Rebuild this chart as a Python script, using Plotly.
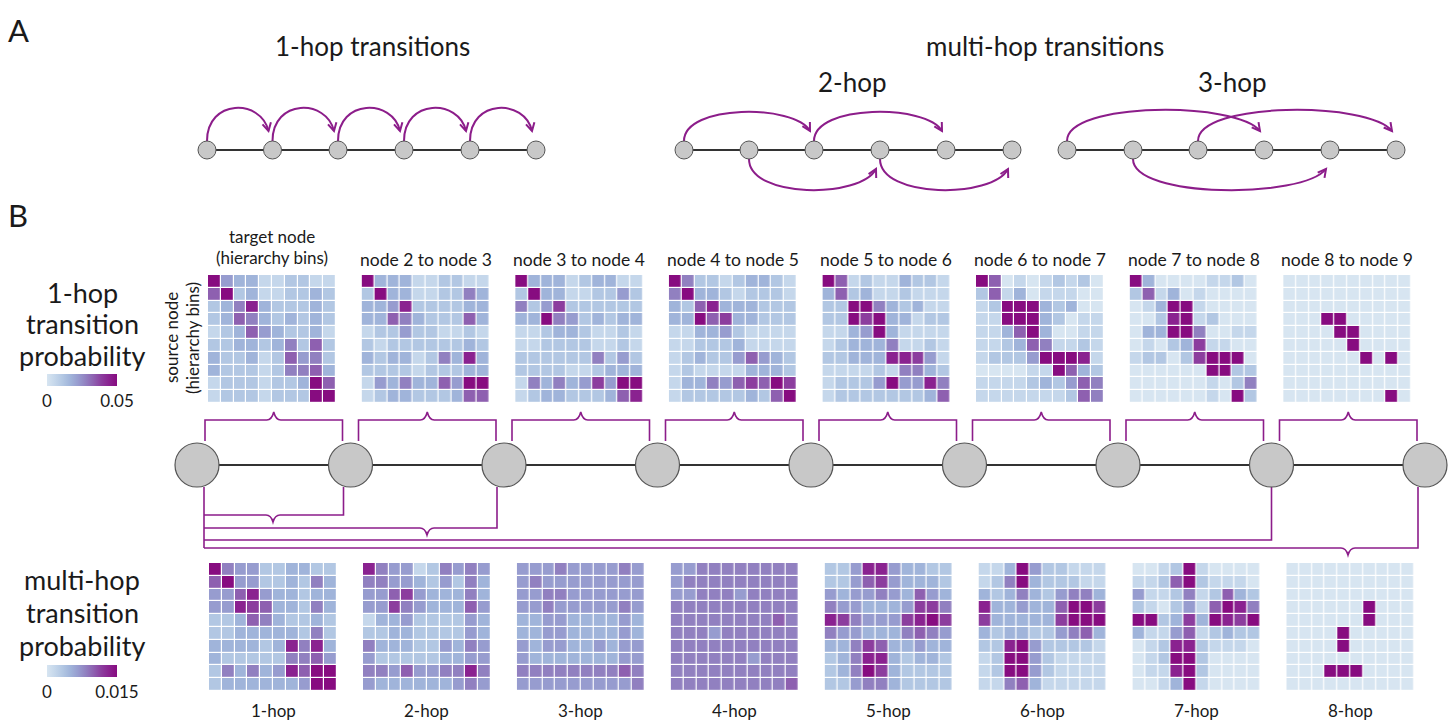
import numpy as np
import plotly.graph_objects as go

W, H = 1455, 721
FONT = "Lato"
TXT = "#1a1a1a"
PURPLE = "#8c1d8a"
NODE_FILL = "#c8c8c8"
NODE_LINE = "#555555"

TOP_MAX = 0.05
BOTTOM_MAX = 0.015
N_LEVELS = 9  # matrices below are colour levels 0..9

top_titles = ["node 2 to node 3", "node 3 to node 4", "node 4 to node 5",
              "node 5 to node 6", "node 6 to node 7", "node 7 to node 8",
              "node 8 to node 9"]
bottom_titles = ["1-hop", "2-hop", "3-hop", "4-hop", "5-hop", "6-hop", "7-hop", "8-hop"]

T1 = [[9,4,3,3,1,1,2,2,1,1],[6,9,2,3,1,1,2,2,3,2],[2,3,5,8,3,2,2,2,3,2],
      [2,3,6,5,3,2,3,2,3,2],[1,2,3,6,4,3,2,2,3,1],[2,2,3,3,2,3,5,2,6,2],
      [3,2,2,3,1,2,6,4,5,2],[3,2,2,2,1,2,5,5,6,3],[1,2,2,2,1,2,2,3,9,6],
      [1,2,2,2,1,2,2,2,9,9]]
T2 = [[9,3,3,3,1,1,2,2,1,1],[2,9,3,3,1,1,2,2,5,3],[3,3,4,8,2,2,2,2,3,3],
      [3,3,6,5,3,2,2,2,6,3],[1,2,2,4,2,2,1,1,2,1],[2,1,2,2,2,2,2,2,3,2],
      [3,2,3,3,1,2,5,3,8,3],[2,2,2,2,1,2,2,2,3,3],[1,4,3,5,3,3,6,4,9,9],
      [1,2,3,3,2,2,2,3,6,6]]
T3 = [[9,3,3,3,1,2,3,3,1,1],[2,9,3,3,1,1,2,2,4,2],[5,2,4,7,2,2,2,2,2,2],
      [3,3,9,5,4,2,3,2,3,3],[1,1,2,3,3,2,1,1,2,1],[1,1,2,2,2,2,1,1,2,1],
      [2,2,2,2,2,2,5,2,4,2],[2,2,2,2,1,1,2,3,3,3],[1,5,3,5,3,4,7,4,9,9],
      [1,2,3,3,2,2,2,3,6,8]]
T4 = [[9,5,2,2,1,2,3,3,2,1],[5,9,3,3,2,1,2,2,2,1],[3,2,6,8,3,3,3,2,2,2],
      [3,3,9,6,7,3,3,2,2,2],[1,1,3,3,4,2,1,1,1,1],[1,1,2,2,2,3,1,1,1,1],
      [1,2,3,2,2,4,6,4,3,2],[1,2,1,1,1,1,3,3,3,2],[1,3,3,5,4,6,7,6,9,7],
      [1,2,2,2,2,2,3,2,6,9]]
T5 = [[9,6,1,2,1,1,3,2,2,1],[3,6,2,3,1,1,2,1,1,1],[2,2,9,9,5,3,2,3,1,1],
      [2,2,9,7,9,3,3,1,2,2],[1,1,3,4,9,3,1,1,1,1],[1,2,3,3,3,5,1,1,2,1],
      [2,2,3,3,3,8,8,7,4,1],[1,1,1,1,2,1,5,5,3,2],[1,2,2,2,4,9,4,4,8,5],
      [1,2,2,2,2,2,2,2,3,6]]
T6 = [[9,6,0,1,0,1,2,1,2,0],[2,6,1,3,0,1,1,1,0,0],[1,2,9,9,9,3,2,3,0,0],
      [1,1,9,9,9,3,2,0,1,1],[1,1,3,6,9,3,0,0,1,1],[1,1,2,3,6,5,1,1,2,1],
      [1,2,2,2,4,9,9,9,8,1],[0,0,0,0,1,1,9,6,3,2],[1,1,1,1,2,3,2,4,6,5],
      [1,1,1,1,1,1,1,2,6,5]]
T7 = [[9,3,0,0,0,0,1,1,2,0],[2,6,1,3,0,1,0,0,0,0],[0,1,3,9,9,1,0,0,0,0],
      [0,0,2,8,9,1,2,0,0,0],[0,3,3,9,9,5,0,0,1,1],[0,1,0,2,3,7,1,1,0,0],
      [1,2,2,0,2,7,9,9,9,0],[0,0,0,0,0,0,9,9,2,2],[0,0,0,0,0,0,1,0,2,5],
      [0,0,0,0,0,0,1,0,9,2]]
T8 = [[0,0,0,0,0,0,0,0,0,0],[0,0,0,0,0,0,0,0,0,0],[0,0,0,0,0,0,0,0,0,0],
      [0,0,0,9,9,0,0,0,0,0],[0,0,0,0,9,9,0,0,0,0],[0,0,0,0,0,9,0,0,0,0],
      [0,0,0,0,0,0,9,0,9,0],[0,0,0,0,0,0,0,0,0,0],[0,0,0,0,0,0,0,0,0,0],
      [0,0,0,0,0,0,0,0,9,0]]

B1 = [[9,5,4,4,2,2,3,3,2,2],[6,9,4,4,2,2,3,2,5,3],[4,4,6,8,4,3,3,2,3,3],
      [4,4,8,7,6,3,3,2,5,3],[2,2,3,6,5,3,2,2,3,2],[2,2,3,3,3,3,3,2,5,2],
      [3,3,3,3,2,3,8,5,8,3],[3,2,2,2,2,2,5,5,6,4],[2,5,3,5,3,4,8,6,9,9],
      [2,3,3,3,3,3,3,4,9,9]]
B2 = [[8,5,4,4,1,2,5,4,5,4],[5,5,4,4,3,2,4,2,5,3],[4,4,6,7,4,3,3,3,5,3],
      [4,4,7,5,4,3,3,3,6,4],[1,3,3,4,2,2,2,2,4,3],[2,2,3,3,2,2,2,2,4,3],
      [5,3,3,3,2,2,4,3,5,4],[4,2,2,2,2,2,3,3,4,4],[5,5,4,6,4,4,5,5,8,5],
      [4,3,3,3,3,3,3,4,5,4]]
B3 = [[4,4,4,5,4,4,4,4,5,4],[4,5,4,4,4,4,4,4,4,4],[4,4,5,5,4,4,4,4,4,4],
      [4,4,5,4,4,4,4,4,5,4],[3,3,4,4,3,3,3,3,4,3],[3,3,4,4,3,3,3,3,4,3],
      [4,3,4,4,3,3,4,3,4,4],[4,3,3,3,3,3,3,3,4,4],[5,5,5,5,5,5,5,5,6,5],
      [4,4,4,4,4,4,4,4,4,5]]
B4 = [[4,4,5,5,5,5,5,5,5,5],[4,5,5,5,5,5,5,5,5,5],[4,4,5,5,5,4,5,5,5,5],
      [5,5,5,5,5,5,5,5,5,5],[5,5,5,5,5,5,5,5,6,5],[5,5,5,4,5,5,5,5,5,5],
      [5,5,5,5,5,5,5,5,5,5],[5,5,5,5,5,5,4,5,5,5],[5,5,5,5,5,5,5,5,5,5],
      [5,5,5,5,5,5,5,5,5,6]]
B5 = [[2,2,4,8,8,4,3,3,2,2],[2,2,4,6,7,4,3,3,3,2],[4,3,4,4,5,4,3,6,4,3],
      [5,4,4,3,3,3,4,7,7,5],[8,7,5,4,4,4,7,8,9,7],[5,4,4,3,3,3,5,6,5,4],
      [3,3,5,7,6,3,3,4,3,3],[2,3,5,8,8,3,2,3,3,2],[2,3,5,9,7,3,2,2,2,2],
      [2,2,4,5,5,3,2,2,2,2]]
B6 = [[1,1,3,9,4,2,2,1,1,1],[1,2,5,9,3,2,2,2,1,1],[3,2,3,5,3,2,4,5,5,3],
      [8,3,3,4,3,3,6,9,9,7],[7,3,3,3,3,3,7,9,9,9],[3,2,3,3,2,2,4,5,6,3],
      [2,2,8,9,4,2,2,2,2,1],[1,2,9,9,4,2,1,1,1,1],[1,2,9,9,4,2,1,1,1,1],
      [1,1,5,6,3,1,1,1,1,1]]
B7 = [[0,0,1,2,9,1,0,0,0,0],[1,1,2,6,9,2,1,1,1,0],[4,1,1,2,5,1,2,6,3,2],
      [2,1,0,2,4,1,6,9,8,5],[9,9,2,3,7,3,9,8,7,9],[3,1,1,4,6,1,2,3,2,2],
      [0,1,2,8,8,2,1,1,1,0],[0,1,2,9,9,2,0,0,0,0],[0,1,1,8,9,2,0,0,0,0],
      [0,0,1,3,9,1,0,0,0,0]]
B8 = [[0,0,0,0,0,0,0,0,0,0],[0,0,0,0,0,0,0,0,0,0],[0,0,0,0,0,0,0,0,0,0],
      [0,0,0,0,0,0,9,0,0,0],[0,0,0,0,0,0,9,0,0,0],[0,0,0,0,9,0,0,0,0,0],
      [0,0,0,0,9,0,0,0,0,0],[0,0,0,0,0,0,0,0,0,0],[0,0,0,9,9,9,0,0,0,0],
      [0,0,0,0,0,0,0,0,0,0]]

top_mats = [T1, T2, T3, T4, T5, T6, T7, T8]
bottom_mats = [B1, B2, B3, B4, B5, B6, B7, B8]

colorscale = [[0.0, "#d7e5f1"], [0.111, "#c5d7eb"], [0.222, "#b2c7e3"],
              [0.333, "#a0b4da"], [0.444, "#979ccf"], [0.556, "#9180c0"],
              [0.667, "#8e60b0"], [0.778, "#8c3d9e"], [0.889, "#8a2290"],
              [1.0, "#870c80"]]

# ---------- layout geometry (pixels) ----------
HM = 128
top_x0 = [208 + i * 153.6 for i in range(8)]
top_y0 = 275
bot_x0 = [209 + i * 153.9 for i in range(8)]
bot_y0 = 563

fig = go.Figure()
fig.add_trace(go.Scatter(x=[0], y=[0], mode="markers", marker=dict(opacity=0),
                         hoverinfo="skip", showlegend=False))

layout = dict(width=W, height=H, margin=dict(l=0, r=0, t=0, b=0),
              paper_bgcolor="white", plot_bgcolor="white", showlegend=False,
              font=dict(family=FONT, color=TXT),
              xaxis=dict(domain=[0, 1], range=[0, W], visible=False),
              yaxis=dict(domain=[0, 1], range=[H, 0], visible=False))

panels = []
for i in range(8):
    panels.append((top_mats[i], top_x0[i], top_y0, "coloraxis", TOP_MAX))
for i in range(8):
    panels.append((bottom_mats[i], bot_x0[i], bot_y0, "coloraxis2", BOTTOM_MAX))

for k, (mat, x0, y0, cax, vmax) in enumerate(panels):
    n = k + 2
    z = np.array(mat, dtype=float) / N_LEVELS * vmax
    fig.add_trace(go.Heatmap(z=z, coloraxis=cax, xgap=1.2, ygap=1.2,
                             xaxis=f"x{n}", yaxis=f"y{n}", hoverinfo="z"))
    layout[f"xaxis{n}"] = dict(domain=[x0 / W, (x0 + HM) / W], anchor=f"y{n}",
                               range=[-0.5, 9.5], visible=False)
    layout[f"yaxis{n}"] = dict(domain=[1 - (y0 + HM) / H, 1 - y0 / H], anchor=f"x{n}",
                               range=[9.5, -0.5], visible=False)

def cbar(y_top, vmax, label):
    return dict(orientation="h", x=47 / W, xanchor="left", y=1 - y_top / H,
                yanchor="top", len=70, lenmode="pixels", thickness=12,
                xpad=0, ypad=0, tickvals=[0, vmax], ticktext=["0", label],
                ticks="", outlinewidth=0,
                tickfont=dict(size=17, family=FONT, color=TXT))

layout["coloraxis"] = dict(cmin=0, cmax=TOP_MAX, colorscale=colorscale,
                           colorbar=cbar(374, TOP_MAX, "0.05"))
layout["coloraxis2"] = dict(cmin=0, cmax=BOTTOM_MAX, colorscale=colorscale,
                            colorbar=cbar(665, BOTTOM_MAX, "0.015"))

shapes = []
ann = []

def text(x, y, s, size, angle=0):
    ann.append(dict(x=x, y=y, xref="x", yref="y", text=s, showarrow=False,
                    font=dict(size=size, family=FONT, color=TXT),
                    xanchor="center", yanchor="middle", textangle=angle))

def line(x0, y0, x1, y1, color, width):
    shapes.append(dict(type="line", xref="x", yref="y", x0=x0, y0=y0, x1=x1, y1=y1,
                       line=dict(color=color, width=width)))

def circle(cx, cy, r, lw=1):
    shapes.append(dict(type="circle", xref="x", yref="y", x0=cx - r, x1=cx + r,
                       y0=cy - r, y1=cy + r, fillcolor=NODE_FILL,
                       line=dict(color=NODE_LINE, width=lw)))

def path(d, color=PURPLE, width=2):
    shapes.append(dict(type="path", xref="x", yref="y", path=d,
                       line=dict(color=color, width=width)))

def arrow_arc(sx, sy, ex, ey, peak):
    cy = (8 * peak - sy - ey) / 6.0
    c2x = ex - 0.12 * (ex - sx)
    path(f"M{sx},{sy} C{sx},{cy} {c2x},{cy} {ex},{ey}")
    dx, dy = ex - c2x, ey - cy
    norm = np.hypot(dx, dy)
    dx, dy = dx / norm, dy / norm
    L = 9
    pts = []
    for ang in (0.5, -0.5):
        ca, sa = np.cos(ang), np.sin(ang)
        bx = -(dx * ca - dy * sa)
        by = -(dx * sa + dy * ca)
        pts.append((ex + L * bx, ey + L * by))
    path(f"M{pts[0][0]:.1f},{pts[0][1]:.1f} L{ex},{ey} L{pts[1][0]:.1f},{pts[1][1]:.1f}")

# ---------- Panel A ----------
text(18, 30, "A", 31)
text(18, 215, "B", 31)
text(372, 46, "1-hop transitions", 26)
text(1045, 46, "multi-hop transitions", 26)
text(852, 82, "2-hop", 26)
text(1232, 82, "3-hop", 26)

A_Y = 150
A_R = 9
a1 = [207, 272.5, 338, 404, 470, 536]
a2 = [684, 749, 814, 880, 946, 1012]
a3 = [1067, 1133, 1198, 1264, 1330, 1396]
for row in (a1, a2, a3):
    line(row[0], A_Y, row[-1], A_Y, "#333333", 2)
for i in range(5):
    arrow_arc(a1[i], A_Y - A_R, a1[i + 1] - 4, A_Y - A_R - 10, 108)
for s, t in ((0, 2), (2, 4)):
    arrow_arc(a2[s], A_Y - A_R, a2[t] - 4, A_Y - A_R - 10, 112)
for s, t in ((1, 3), (3, 5)):
    arrow_arc(a2[s], A_Y + A_R, a2[t] - 4, A_Y + A_R + 10, 190)
for s, t in ((0, 3), (2, 5)):
    arrow_arc(a3[s], A_Y - A_R, a3[t] - 4, A_Y - A_R - 10, 110)
arrow_arc(a3[1], A_Y + A_R, a3[4] - 4, A_Y + A_R + 10, 190)
for row in (a1, a2, a3):
    for x in row:
        circle(x, A_Y, A_R)

# ---------- Panel B ----------
text(82, 292, "1-hop", 27)
text(82, 323, "transition", 27)
text(82, 355, "probability", 27)
text(82, 579, "multi-hop", 27)
text(82, 612, "transition", 27)
text(82, 645, "probability", 27)

text(top_x0[0] + HM / 2, 236, "target node", 17)
text(top_x0[0] + HM / 2, 257, "(hierarchy bins)", 17)
for i, t in enumerate(top_titles):
    text(top_x0[i + 1] + HM / 2, 259, t, 17.5)
text(171, 338, "source node", 17, -90)
text(192, 338, "(hierarchy bins)", 17, -90)
for i, t in enumerate(bottom_titles):
    text(bot_x0[i] + HM / 2, 710, t, 17)

B_Y = 465
B_R = 22
bn = [197 + i * 153.5 for i in range(9)]

# upper brackets between consecutive nodes
for i in range(8):
    L_, R_ = bn[i] + 8, bn[i + 1] - 8
    c = (L_ + R_) / 2
    path(f"M{L_},441 L{L_},420 L{c - 7},420 Q{c - 2},420 {c},412 "
         f"Q{c + 2},420 {c + 7},420 L{R_},420 L{R_},441", width=1.6)

# lower brackets from node 1 to nodes 2, 3, 8, 9
x_left = bn[0] + 7
path(f"M{x_left},487 L{x_left},548", width=1.6)
lower = [(1, 515, 273), (2, 528, 427), (7, 540, None), (8, 548, 1348)]
for idx, yy, notch in lower:
    xr = bn[idx] - 7 if idx != 7 else bn[idx]
    if notch is None:
        d = f"M{x_left},{yy} L{xr},{yy} L{xr},487"
    else:
        d = (f"M{x_left},{yy} L{notch - 7},{yy} Q{notch - 2},{yy} {notch},{yy + 7} "
             f"Q{notch + 2},{yy} {notch + 7},{yy} L{xr},{yy} L{xr},487")
    path(d, width=1.6)

line(bn[0], B_Y, bn[-1], B_Y, "#333333", 2)
for x in bn:
    circle(x, B_Y, B_R, 1.2)

layout["shapes"] = shapes
layout["annotations"] = ann
fig.update_layout(**layout)
fig.write_html("out.html", config={"displayModeBar": False},
               post_script="document.body.style.margin='0';document.body.style.padding='0';")
